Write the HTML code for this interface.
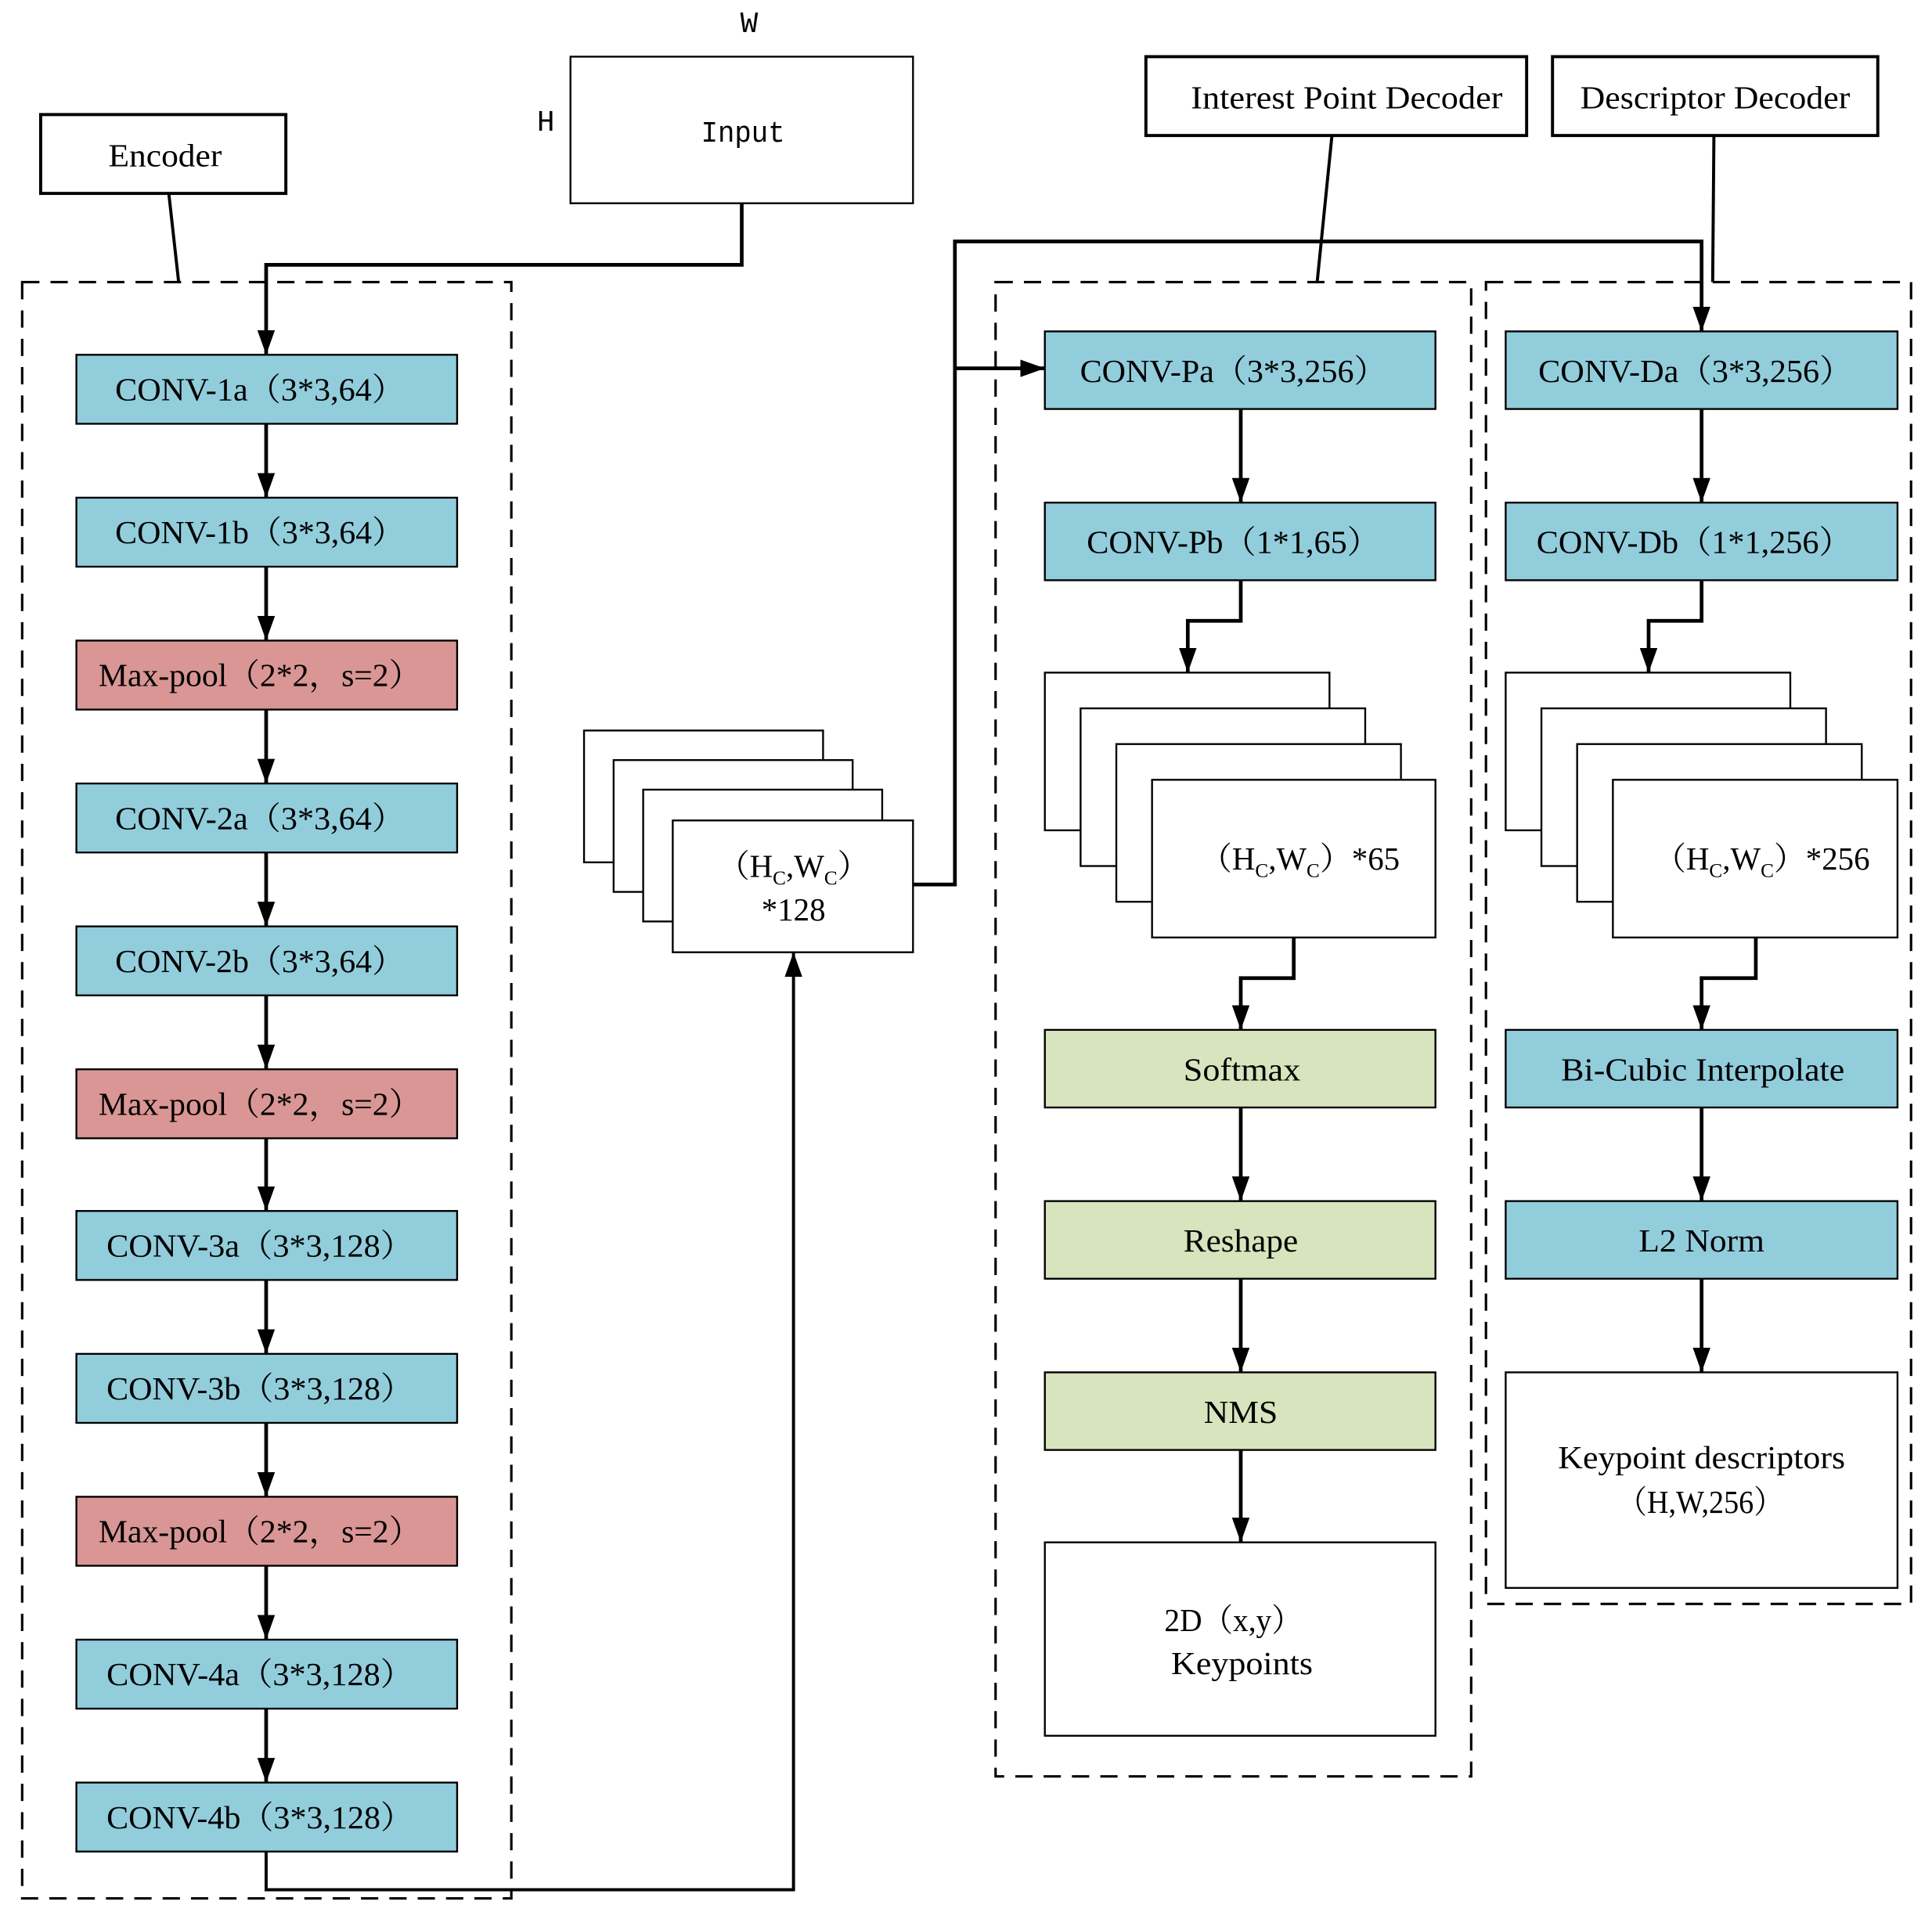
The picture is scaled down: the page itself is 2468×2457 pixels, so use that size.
<!DOCTYPE html>
<html><head><meta charset="utf-8"><style>
html,body{margin:0;padding:0;background:#fff}
svg{display:block}
text{font-family:"Liberation Serif","Noto Serif CJK SC","Noto Sans CJK SC",serif;font-size:26px;fill:#000}
</style></head><body>
<svg width="2468" height="2457" viewBox="0 0 1568 1561" preserveAspectRatio="none" xmlns="http://www.w3.org/2000/svg">
<defs>
<marker id="b" markerWidth="20" markerHeight="28" refX="28" refY="10" orient="auto" markerUnits="userSpaceOnUse" viewBox="0 0 28 20">
<path d="M0,0 L28,10 L0,20 z" fill="#000"/></marker>
</defs>
<g stroke="#000" stroke-width="2" fill="none">
<rect x="18" y="229" width="397" height="1312" stroke-dasharray="14,9"/>
<rect x="808" y="229" width="386" height="1213" stroke-dasharray="14,9"/>
<rect x="1206" y="229" width="345" height="1073" stroke-dasharray="14,9"/>
<rect x="33" y="93" width="199" height="64" stroke-width="2.5"/>
<rect x="930" y="46" width="309" height="64" stroke-width="2.5"/>
<rect x="1260" y="46" width="264" height="64" stroke-width="2.5"/>
<rect x="463" y="46" width="278" height="119" stroke-width="1.5"/>
<line x1="137" y1="157" x2="145" y2="229" stroke-width="2.5"/>
<line x1="1081" y1="110" x2="1069" y2="229" stroke-width="2.5"/>
<line x1="1391" y1="110" x2="1390" y2="229" stroke-width="2.5"/>
</g>
<g stroke="#000" stroke-width="1.5">
<rect x="62" y="288" width="309" height="56" fill="#92CDDC"/>
<rect x="62" y="404" width="309" height="56" fill="#92CDDC"/>
<rect x="62" y="520" width="309" height="56" fill="#D99694"/>
<rect x="62" y="636" width="309" height="56" fill="#92CDDC"/>
<rect x="62" y="752" width="309" height="56" fill="#92CDDC"/>
<rect x="62" y="868" width="309" height="56" fill="#D99694"/>
<rect x="62" y="983" width="309" height="56" fill="#92CDDC"/>
<rect x="62" y="1099" width="309" height="56" fill="#92CDDC"/>
<rect x="62" y="1215" width="309" height="56" fill="#D99694"/>
<rect x="62" y="1331" width="309" height="56" fill="#92CDDC"/>
<rect x="62" y="1447" width="309" height="56" fill="#92CDDC"/>
<rect x="474" y="593" width="194" height="107" fill="#fff"/>
<rect x="498" y="617" width="194" height="107" fill="#fff"/>
<rect x="522" y="641" width="194" height="107" fill="#fff"/>
<rect x="546" y="666" width="195" height="107" fill="#fff"/>
<rect x="848" y="269" width="317" height="63" fill="#92CDDC"/>
<rect x="848" y="408" width="317" height="63" fill="#92CDDC"/>
<rect x="848" y="546" width="231" height="128" fill="#fff"/>
<rect x="877" y="575" width="231" height="128" fill="#fff"/>
<rect x="906" y="604" width="231" height="128" fill="#fff"/>
<rect x="935" y="633" width="230" height="128" fill="#fff"/>
<rect x="848" y="836" width="317" height="63" fill="#D7E4BD"/>
<rect x="848" y="975" width="317" height="63" fill="#D7E4BD"/>
<rect x="848" y="1114" width="317" height="63" fill="#D7E4BD"/>
<rect x="848" y="1252" width="317" height="157" fill="#fff"/>
<rect x="1222" y="269" width="318" height="63" fill="#92CDDC"/>
<rect x="1222" y="408" width="318" height="63" fill="#92CDDC"/>
<rect x="1222" y="546" width="231" height="128" fill="#fff"/>
<rect x="1251" y="575" width="231" height="128" fill="#fff"/>
<rect x="1280" y="604" width="231" height="128" fill="#fff"/>
<rect x="1309" y="633" width="231" height="128" fill="#fff"/>
<rect x="1222" y="836" width="318" height="63" fill="#92CDDC"/>
<rect x="1222" y="975" width="318" height="63" fill="#92CDDC"/>
<rect x="1222" y="1114" width="318" height="175" fill="#fff"/>
</g>
<g stroke="#000" stroke-width="3" fill="none" marker-end="url(#b)">
<polyline points="602,165 602,215 216,215 216,288"/>
<line x1="216" y1="344" x2="216" y2="404"/>
<line x1="216" y1="460" x2="216" y2="520"/>
<line x1="216" y1="576" x2="216" y2="636"/>
<line x1="216" y1="692" x2="216" y2="752"/>
<line x1="216" y1="808" x2="216" y2="868"/>
<line x1="216" y1="924" x2="216" y2="983"/>
<line x1="216" y1="1039" x2="216" y2="1099"/>
<line x1="216" y1="1155" x2="216" y2="1215"/>
<line x1="216" y1="1271" x2="216" y2="1331"/>
<line x1="216" y1="1387" x2="216" y2="1447"/>
<polyline points="216,1503 216,1534 644,1534 644,773" stroke-width="2.5"/>
<polyline points="741,718 775,718 775,196 1381,196 1381,269"/>
<polyline points="775,299 848,299"/>
<line x1="1007" y1="332" x2="1007" y2="408"/>
<polyline points="1007,471 1007,504 964,504 964,546"/>
<polyline points="1050,761 1050,794 1007,794 1007,836"/>
<line x1="1007" y1="899" x2="1007" y2="975"/>
<line x1="1007" y1="1038" x2="1007" y2="1114"/>
<line x1="1007" y1="1177" x2="1007" y2="1252"/>
<line x1="1381" y1="332" x2="1381" y2="408"/>
<polyline points="1381,471 1381,504 1338,504 1338,546"/>
<polyline points="1425,761 1425,794 1381,794 1381,836"/>
<line x1="1381" y1="899" x2="1381" y2="975"/>
<line x1="1381" y1="1038" x2="1381" y2="1114"/>
</g>
<g text-anchor="middle" lengthAdjust="spacingAndGlyphs">
<text x="134" y="135" textLength="92" lengthAdjust="spacingAndGlyphs">Encoder</text>
<text x="1093" y="88" textLength="253" lengthAdjust="spacingAndGlyphs">Interest Point Decoder</text>
<text x="1392" y="88" textLength="219" lengthAdjust="spacingAndGlyphs">Descriptor Decoder</text>
<text x="603" y="115" textLength="68" lengthAdjust="spacingAndGlyphs" style="font-family:'Liberation Mono',monospace;font-size:24px;font-weight:300">Input</text>
<text x="608" y="26" style="font-family:'Liberation Mono',monospace;font-size:24px">W</text>
<text x="443" y="106" style="font-family:'Liberation Mono',monospace;font-size:24px">H</text>
<text x="211" y="325" textLength="235" lengthAdjust="spacingAndGlyphs">CONV-1a（3*3,64）</text>
<text x="211" y="441" textLength="235" lengthAdjust="spacingAndGlyphs">CONV-1b（3*3,64）</text>
<text x="211" y="557" textLength="262" lengthAdjust="spacingAndGlyphs">Max-pool（2*2，s=2）</text>
<text x="211" y="673" textLength="235" lengthAdjust="spacingAndGlyphs">CONV-2a（3*3,64）</text>
<text x="211" y="789" textLength="235" lengthAdjust="spacingAndGlyphs">CONV-2b（3*3,64）</text>
<text x="211" y="905" textLength="262" lengthAdjust="spacingAndGlyphs">Max-pool（2*2，s=2）</text>
<text x="211" y="1020" textLength="249" lengthAdjust="spacingAndGlyphs">CONV-3a（3*3,128）</text>
<text x="211" y="1136" textLength="249" lengthAdjust="spacingAndGlyphs">CONV-3b（3*3,128）</text>
<text x="211" y="1252" textLength="262" lengthAdjust="spacingAndGlyphs">Max-pool（2*2，s=2）</text>
<text x="211" y="1368" textLength="249" lengthAdjust="spacingAndGlyphs">CONV-4a（3*3,128）</text>
<text x="211" y="1484" textLength="249" lengthAdjust="spacingAndGlyphs">CONV-4b（3*3,128）</text>
<text x="644" y="712">（H<tspan font-size="16" dy="6">C</tspan><tspan dy="-6">,W</tspan><tspan font-size="16" dy="6">C</tspan><tspan dy="-6">）</tspan></text>
<text x="644" y="747">*128</text>
<text x="1001" y="310" textLength="249" lengthAdjust="spacingAndGlyphs">CONV-Pa（3*3,256）</text>
<text x="1001" y="449" textLength="238" lengthAdjust="spacingAndGlyphs">CONV-Pb（1*1,65）</text>
<text x="1055" y="706">（H<tspan font-size="16" dy="6">C</tspan><tspan dy="-6">,W</tspan><tspan font-size="16" dy="6">C</tspan><tspan dy="-6">）*65</tspan></text>
<text x="1008" y="877" textLength="95" lengthAdjust="spacingAndGlyphs">Softmax</text>
<text x="1007" y="1016" textLength="93" lengthAdjust="spacingAndGlyphs">Reshape</text>
<text x="1007" y="1155" textLength="60" lengthAdjust="spacingAndGlyphs">NMS</text>
<text x="1001" y="1324" textLength="112" lengthAdjust="spacingAndGlyphs">2D（x,y）</text>
<text x="1008" y="1359" textLength="115" lengthAdjust="spacingAndGlyphs">Keypoints</text>
<text x="1376" y="310" textLength="255" lengthAdjust="spacingAndGlyphs">CONV-Da（3*3,256）</text>
<text x="1375" y="449" textLength="256" lengthAdjust="spacingAndGlyphs">CONV-Db（1*1,256）</text>
<text x="1430" y="706">（H<tspan font-size="16" dy="6">C</tspan><tspan dy="-6">,W</tspan><tspan font-size="16" dy="6">C</tspan><tspan dy="-6">）*256</tspan></text>
<text x="1382" y="877" textLength="230" lengthAdjust="spacingAndGlyphs">Bi-Cubic Interpolate</text>
<text x="1381" y="1016" textLength="102" lengthAdjust="spacingAndGlyphs">L2 Norm</text>
<text x="1381" y="1192" textLength="233" lengthAdjust="spacingAndGlyphs">Keypoint descriptors</text>
<text x="1380" y="1228" textLength="135" lengthAdjust="spacingAndGlyphs">（H,W,256）</text>
</g>
</svg>
</body></html>
